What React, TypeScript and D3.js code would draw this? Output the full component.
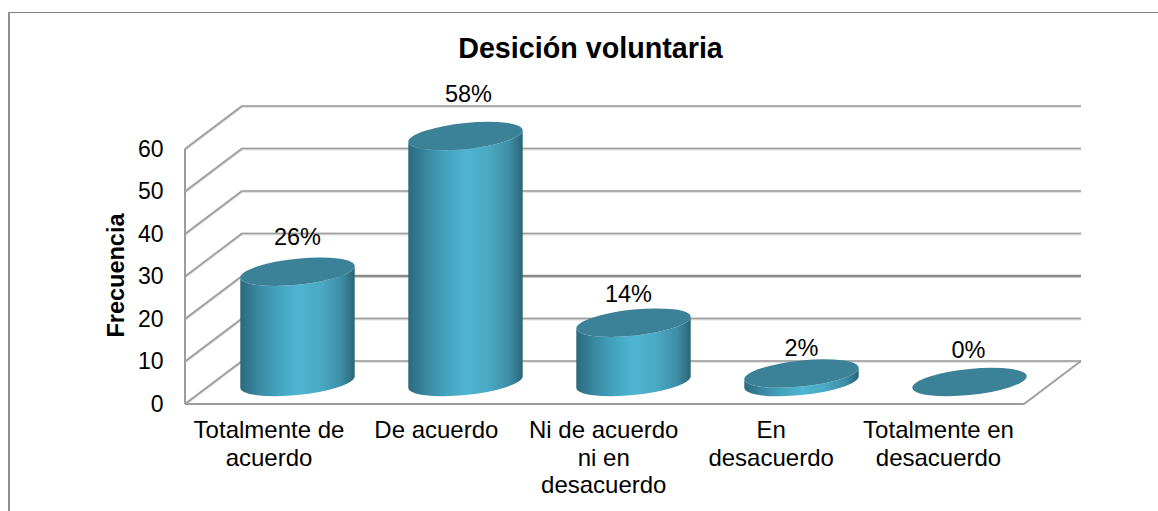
import React from "react";
import * as d3 from "d3";

const categories = [
  ["Totalmente de", "acuerdo"],
  ["De acuerdo"],
  ["Ni de acuerdo", "ni en", "desacuerdo"],
  ["En", "desacuerdo"],
  ["Totalmente en", "desacuerdo"],
];
const keys = ["a", "b", "c", "d", "e"];
const values = [26, 58, 14, 2, 0];
const labels = ["26%", "58%", "14%", "2%", "0%"];
const ticks = [0, 10, 20, 30, 40, 50, 60];

const FONT = "'Liberation Sans', Arial, sans-serif";
const GRID = "#9d9d9d";
const GRID_SHADOW = "#e2e2e2";

// Chart box geometry (oblique projection of the 3D wall)
const frontLeft = 185;
const frontRight = 1024;
const frontBottom = 404;
const frontTop = 149;
const depthX = 57;
const depthY = -43;

const yFront = d3.scaleLinear().domain([0, 60]).range([frontBottom, frontTop]);
const yBar = d3.scaleLinear().domain([0, 60]).range([382, 382 - 254.4]);
const xBand = d3.scaleBand<string>().domain(keys).range([213.5, 1053.5]);
const xCat = d3.scalePoint<string>().domain(keys).range([269, 938.5]);

// Hand-placed data labels: lift above the cylinder top and sideways nudge
const labelLift = [27, 34, 21, 18, 24];
const labelNudge = [0, 3, -5, 0, -1];

// Tilted ellipse
const A = 57.5;
const B = 13;
const TILT = -6;
const rad = (TILT * Math.PI) / 180;
const halfW = Math.sqrt(A * A * Math.cos(rad) ** 2 + B * B * Math.sin(rad) ** 2);
const tangentY = ((A * A - B * B) * Math.sin(rad) * Math.cos(rad)) / halfW;

function ellipsePath(cx: number, cy: number) {
  const lx = cx - halfW, ly = cy - tangentY;
  const rx = cx + halfW, ry = cy + tangentY;
  return `M${lx},${ly}A${A},${B} ${TILT} 1 1 ${rx},${ry}A${A},${B} ${TILT} 1 1 ${lx},${ly}Z`;
}
function bodyPath(cx: number, top: number, base: number) {
  const lx = cx - halfW, rx = cx + halfW;
  return `M${lx},${top - tangentY}L${lx},${base - tangentY}A${A},${B} ${TILT} 0 0 ${rx},${base + tangentY}L${rx},${top + tangentY}A${A},${B} ${TILT} 0 1 ${lx},${top - tangentY}Z`;
}

export default function App() {
  return (
    <svg
      width={1158}
      height={511}
      style={{ position: "fixed", left: 0, top: 0, display: "block", background: "#fff" }}
    >
      <defs>
        <linearGradient id="cyl" x1="0" x2="1" y1="0" y2="0">
          <stop offset="0" stopColor="#2b6a7f" />
          <stop offset="0.12" stopColor="#36819a" />
          <stop offset="0.3" stopColor="#43a0bb" />
          <stop offset="0.5" stopColor="#4fb5d2" />
          <stop offset="0.7" stopColor="#4ba9c4" />
          <stop offset="0.88" stopColor="#3e8ea8" />
          <stop offset="1" stopColor="#2a6476" />
        </linearGradient>
      </defs>

      {/* outer frame */}
      <line x1={8} x2={1158} y1={12.5} y2={12.5} stroke="#808080" strokeWidth={1} />
      <line x1={9} x2={9} y1={12} y2={511} stroke="#8f8f8f" strokeWidth={2} />

      {/* walls and gridlines */}
      {ticks.map((t) => {
        const yf = yFront(t);
        const yb = yf + depthY;
        const xb = frontLeft + depthX;
        return (
          <g key={t} fill="none">
            <path
              d={`M${frontLeft},${yf + 0.5}L${xb},${yb + 0.5}L${frontRight + depthX},${yb + 0.5}`}
              stroke={GRID_SHADOW}
              strokeWidth={3}
            />
            <path d={`M${frontLeft},${yf}L${xb},${yb}`} stroke={GRID} strokeWidth={1.6} />
            <line
              x1={xb}
              x2={frontRight + depthX}
              y1={yb}
              y2={yb}
              stroke={t === 20 ? "#8a8a8a" : GRID}
              strokeWidth={t === 20 ? 2.4 : 1.6}
            />
          </g>
        );
      })}
      <line x1={frontLeft} x2={frontLeft} y1={frontTop} y2={frontBottom} stroke={GRID} strokeWidth={2} />
      <path
        d={`M${frontLeft},${frontBottom}L${frontRight},${frontBottom}L${frontRight + depthX},${frontBottom + depthY}`}
        fill="none"
        stroke={GRID}
        strokeWidth={1.8}
      />

      {/* tick labels */}
      {ticks.map((t) => (
        <text
          key={t}
          x={163.5}
          y={yFront(t) + 7.5}
          textAnchor="end"
          fontFamily={FONT}
          fontSize={23}
          fill="#000"
        >
          {t}
        </text>
      ))}

      {/* cylinders */}
      {values.map((v, i) => {
        const cx = (xBand(keys[i]) as number) + xBand.bandwidth() / 2;
        const top = yBar(v);
        const base = yBar(0);
        return (
          <g key={keys[i]}>
            {v > 0 && <path d={bodyPath(cx, top, base)} fill="url(#cyl)" />}
            <path d={ellipsePath(cx, top)} fill="#3b8299" />
            <text
              x={cx + labelNudge[i]}
              y={top - labelLift[i]}
              textAnchor="middle"
              fontFamily={FONT}
              fontSize={23.5}
              fill="#000"
            >
              {labels[i]}
            </text>
          </g>
        );
      })}

      {/* category labels */}
      {categories.map((lines, i) => (
        <text key={keys[i]} textAnchor="middle" fontFamily={FONT} fontSize={24} fill="#000">
          {lines.map((l, j) => (
            <tspan key={j} x={xCat(keys[i])} y={438 + j * 27.5}>
              {l}
            </tspan>
          ))}
        </text>
      ))}

      {/* titles */}
      <text x={590.5} y={58} textAnchor="middle" fontFamily={FONT} fontSize={28.7} fontWeight={700} fill="#000">
        Desición voluntaria
      </text>
      <text
        transform="translate(124,275.5) rotate(-90)"
        textAnchor="middle"
        fontFamily={FONT}
        fontSize={23.5}
        fontWeight={700}
        fill="#000"
      >
        Frecuencia
      </text>
    </svg>
  );
}
